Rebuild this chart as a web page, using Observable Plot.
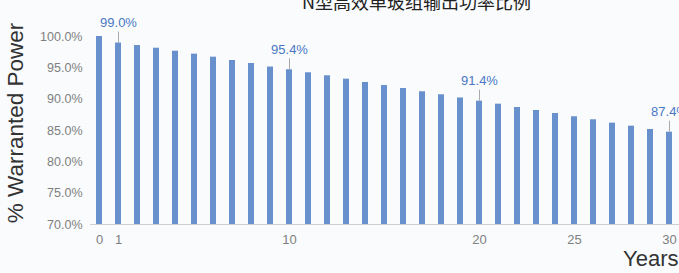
<!DOCTYPE html>
<html><head><meta charset="utf-8">
<script src="https://cdn.jsdelivr.net/npm/d3@7"></script>
<script src="https://cdn.jsdelivr.net/npm/@observablehq/plot@0.6"></script>
<style>
html,body{margin:0;padding:0;background:#f9fbfd;overflow:hidden;width:679px;height:273px;}
#wrap{position:relative;width:679px;height:273px;overflow:hidden;}
#title{position:absolute;left:302px;top:-8px;white-space:nowrap;font-family:"Noto Sans CJK SC";font-size:18px;line-height:18px;color:#222;}
svg{display:block;}
</style></head><body>
<div id="wrap"><div id="title">N型高效单玻组输出功率比例</div></div>
<script>
const years = [0,1,2,3,4,5,6,7,8,9,10,11,12,13,14,15,16,17,18,19,20,21,22,23,24,25,26,27,28,29,30];
const values = [100.0,98.96,98.56,98.13,97.65,97.18,96.70,96.17,95.69,95.13,94.69,94.21,93.73,93.19,92.66,92.18,91.70,91.18,90.70,90.19,89.68,89.20,88.67,88.19,87.71,87.19,86.71,86.17,85.69,85.16,84.73];
const labelYears = [1,10,20,30];
const labelTexts = ["99.0%","95.4%","91.4%","87.4%"];
const yTicks = [70,75,80,85,90,95,100];
const xTicks = [0,1,10,20,25,30];
const yMin = 70, yMax = 100;

const data = years.map((year,i)=>({year, value: values[i]}));
const annot = labelYears.map((year,i)=>({year, value: values[years.indexOf(year)], label: labelTexts[i]}));

const chart = Plot.plot({
  width: 679, height: 273,
  marginLeft: 90, marginRight: 0, marginTop: 36, marginBottom: 49,
  style: {background: "transparent", fontFamily: "'Liberation Sans', Arial, sans-serif", overflow: "hidden"},
  x: {type: "band", domain: years, paddingInner: 0.68, paddingOuter: 0.34, axis: null},
  y: {domain: [yMin, yMax], axis: null},
  marks: [
    Plot.axisY({ticks: yTicks, tickSize: 0, tickPadding: 8, tickFormat: d => d.toFixed(1) + "%", fontSize: 12.5, color: "#808080", label: null}),
    Plot.axisX({ticks: xTicks, tickSize: 0, tickPadding: 10, fontSize: 13, color: "#808080", label: null}),
    Plot.barY(data, {x: "year", y1: yMin, y2: "value", fill: "#6890cc"}),
    Plot.ruleY([yMin], {stroke: "#cfcfcf"}),
    Plot.ruleX(annot, {x: "year", y1: "value", y2: "value", insetBottom: 11, stroke: "#aaaaaa"}),
    Plot.text(annot, {x: "year", y: "value", text: "label", dy: -16, lineAnchor: "bottom", fill: "#4a78c4", fontSize: 13}),
    Plot.text(["% Warranted Power"], {text: d => d, frameAnchor: "left", textAnchor: "middle", lineAnchor: "middle", rotate: -90, dx: -74.5, dy: -7.5, fontSize: 22.5, fill: "#333"}),
    Plot.text(["Years"], {text: d => d, frameAnchor: "bottom-right", textAnchor: "end", lineAnchor: "bottom", dx: -1, dy: 41, fontSize: 22, fill: "#333"})
  ]
});
document.getElementById("wrap").insertBefore(chart, document.getElementById("title"));
</script>
</body></html>
